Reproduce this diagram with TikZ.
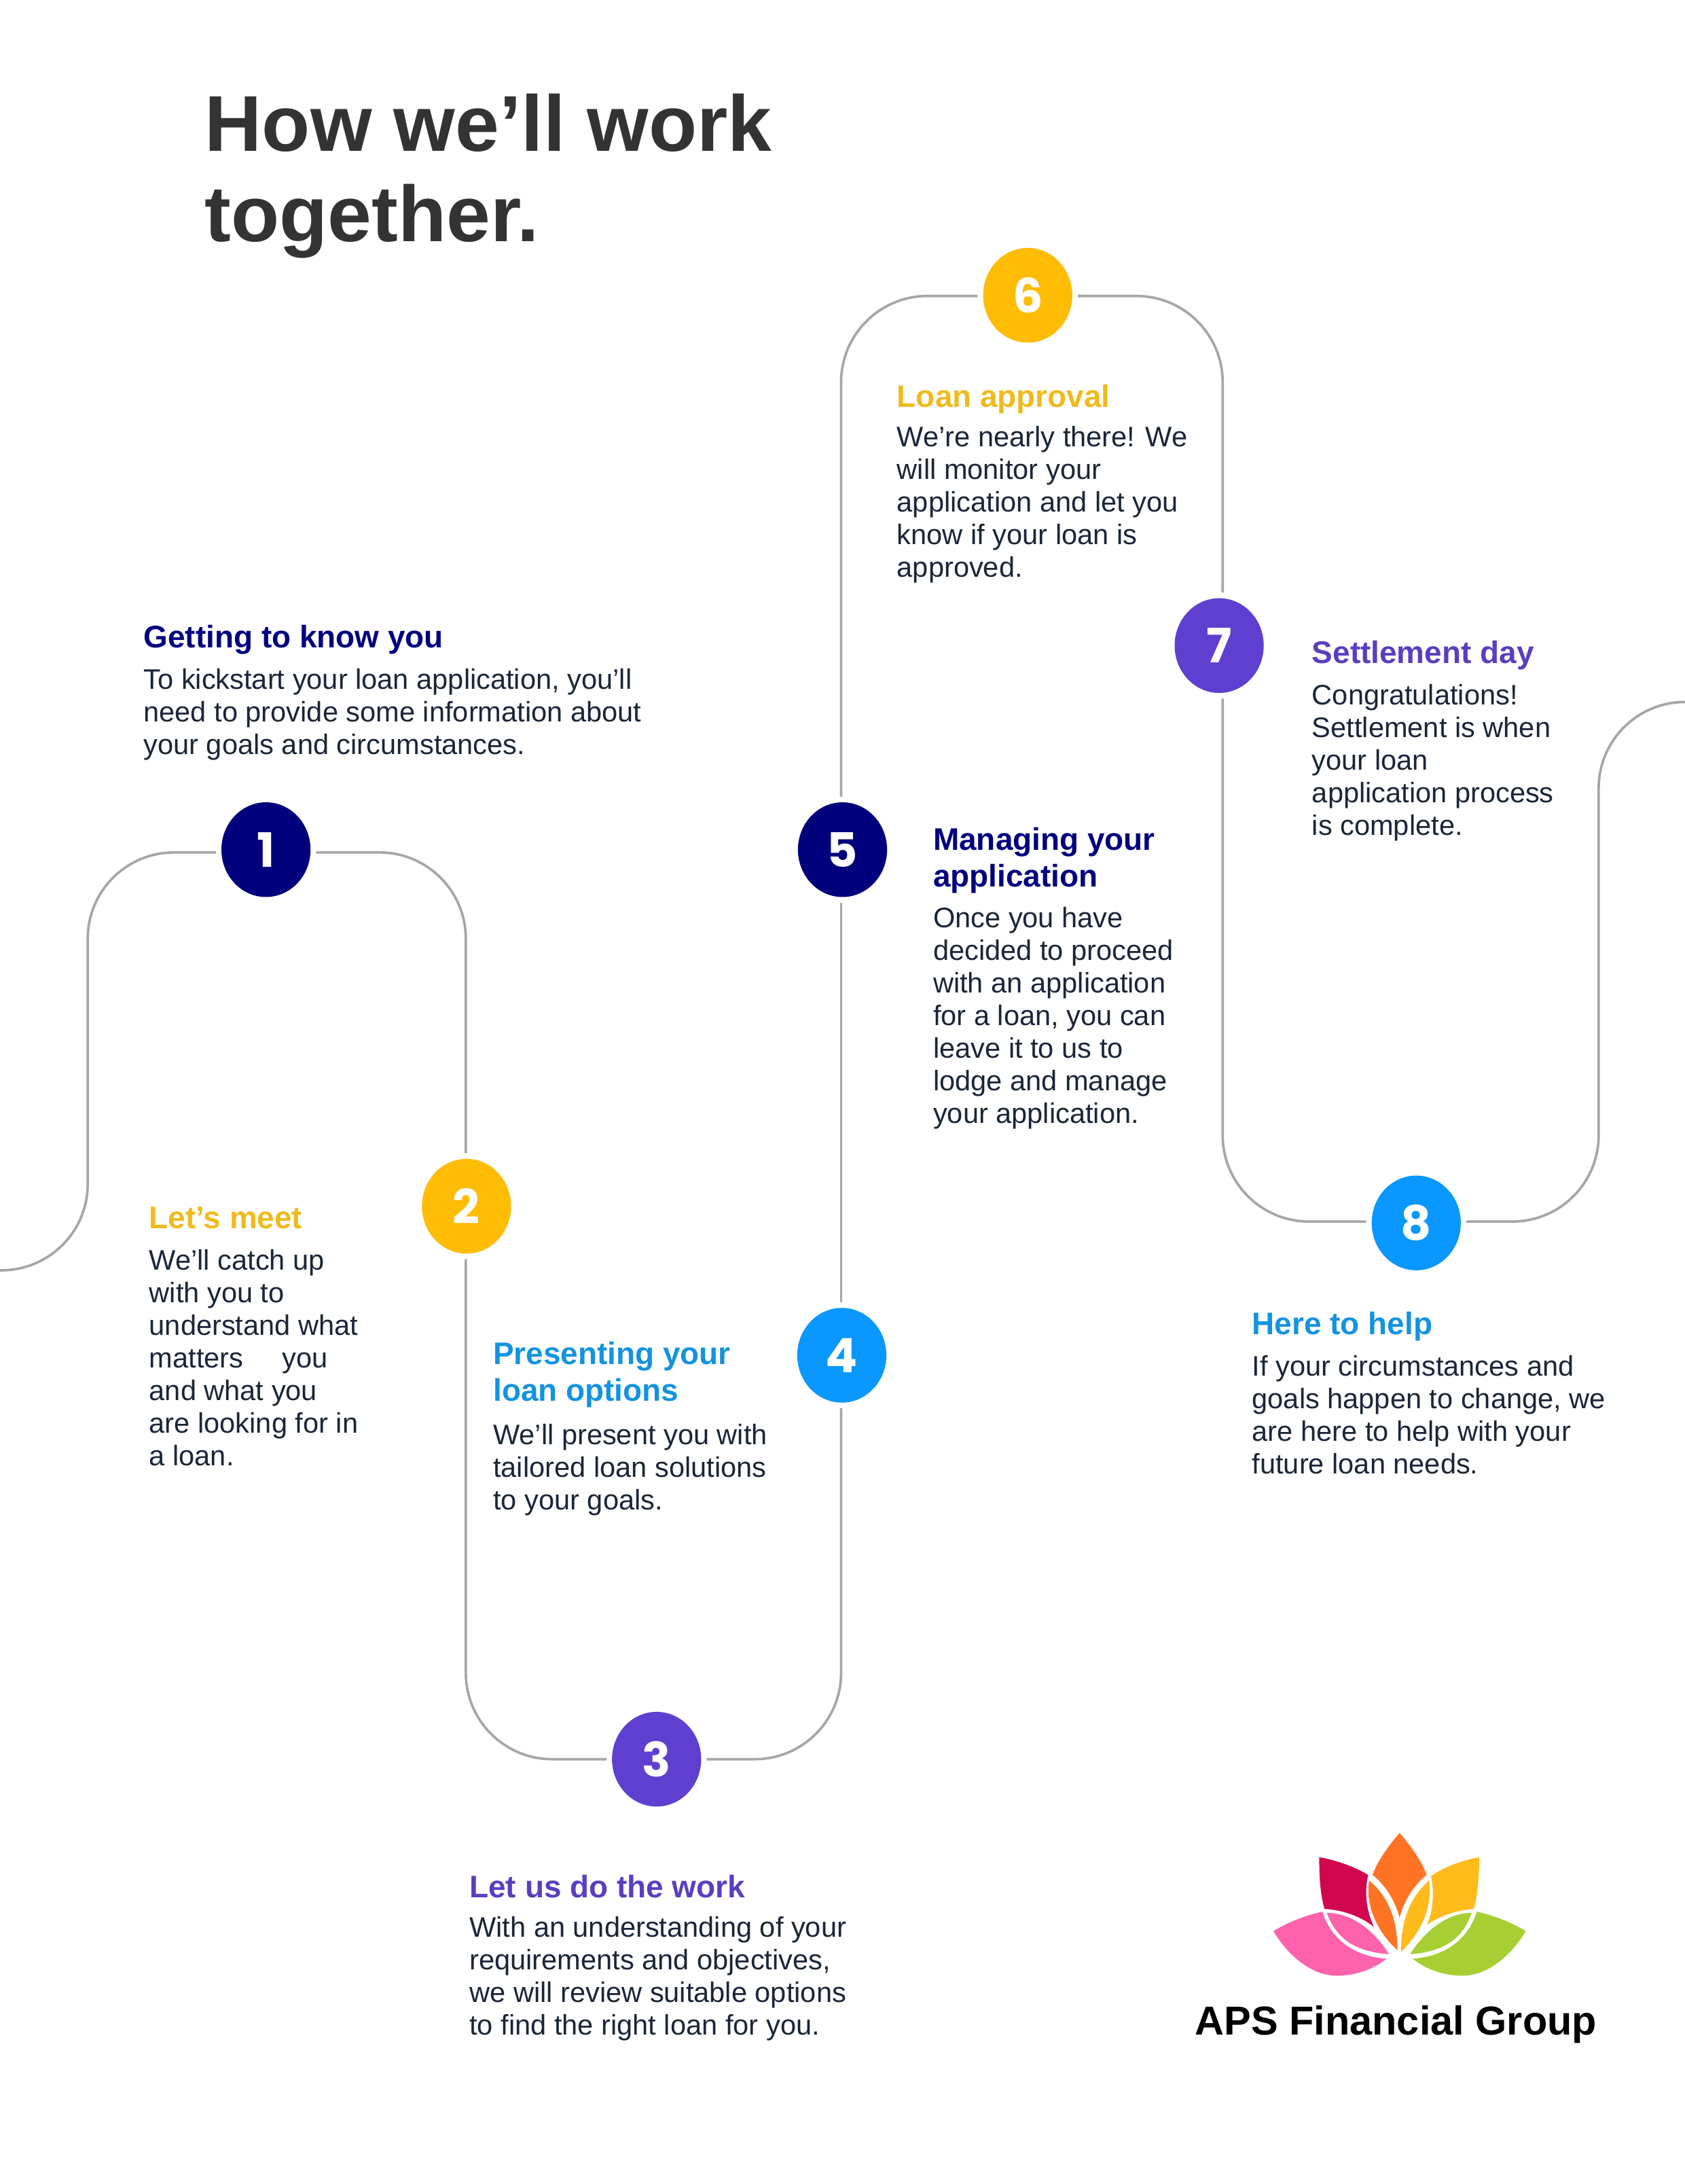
\documentclass[tikz,border=0pt]{standalone}
\usepackage{fontspec}
\setmainfont{Liberation Sans}
\newfontfamily\numfont{Poppins}
\usetikzlibrary{shapes.geometric}
\definecolor{cnavy}{HTML}{00007F}
\definecolor{cgold}{HTML}{F0BA1E}
\definecolor{cblue}{HTML}{1393E0}
\definecolor{cpurple}{HTML}{5A3EC0}
\definecolor{cbody}{HTML}{1B2538}
\definecolor{ctitle}{HTML}{333333}
\definecolor{cline}{HTML}{A6A6A6}
\definecolor{fnavy}{HTML}{00007D}
\definecolor{fgold}{HTML}{FFBC05}
\definecolor{fblue}{HTML}{0A97FF}
\definecolor{fpurple}{HTML}{5E3FD0}
\definecolor{lpink}{HTML}{FF62AC}
\definecolor{lcrim}{HTML}{D0064F}
\definecolor{lorange}{HTML}{FF7424}
\definecolor{lyellow}{HTML}{FFBB1C}
\definecolor{lgreen}{HTML}{A6CF33}
\tikzset{
  stepnode/.style={ellipse,minimum width=64pt,minimum height=68pt,inner sep=0pt,outer sep=4pt,text=white,font=\numfont\bfseries\fontsize{34}{34}\selectfont},
  conn/.style={draw=cline,line width=1.8pt,rounded corners=62pt},
  bodytext/.style={anchor=north west,inner sep=0pt,align=left,text=cbody,font=\fontsize{20.28}{23.4}\selectfont,execute at begin node={\rule{0pt}{16pt}}},
  headtext/.style={anchor=north west,inner sep=0pt,align=left,font=\bfseries\fontsize{22.4}{26.5}\selectfont,execute at begin node={\rule{0pt}{17pt}}}
}
\begin{document}
\begin{tikzpicture}[x=1pt,y=-1pt]
\useasboundingbox (0,0) rectangle (1210,1568);
% title
\node[anchor=north west,inner sep=0pt,align=left,text=ctitle,font=\bfseries\fontsize{56.8}{65}\selectfont,execute at begin node={\rule{0pt}{42pt}}] (title) at (147,67) {How we’ll work\\together.};
% step nodes
\node[stepnode,fill=fnavy] (n1) at (191,610) {1};
\node[stepnode,fill=fgold] (n2) at (335,866) {2};
\node[stepnode,fill=fpurple] (n3) at (471.5,1263) {3};
\node[stepnode,fill=fblue] (n4) at (604.5,973) {4};
\node[stepnode,fill=fnavy] (n5) at (605,610) {5};
\node[stepnode,fill=fgold] (n6) at (738,212) {6};
\node[stepnode,fill=fpurple] (n7) at (875.5,463.5) {7};
\node[stepnode,fill=fblue] (n8) at (1017,878) {8};
% bends
\coordinate (s) at (0,912);
\coordinate (b1) at (63,912);
\coordinate (b2) at (63,612);
\coordinate (b3) at (334.5,612);
\coordinate (b4) at (334.5,1263);
\coordinate (b5) at (604,1263);
\coordinate (b6) at (604,212.5);
\coordinate (b7) at (878,212.5);
\coordinate (b8) at (878,877);
\coordinate (b9) at (1148,877);
\coordinate (b10) at (1148,504);
\coordinate (e) at (1210,504);
% connectors
\draw[conn] (s) -- (b1) -- (b2) -- (n1.west |- b2);
\draw[conn] (n1.east |- b3) -- (b3) -- (n2.north -| b3);
\draw[conn] (n2.south -| b4) -- (b4) -- (n3.west |- b4);
\draw[conn] (n3.east |- b5) -- (b5) -- (n4.south -| b5);
\draw[conn] (n4.north -| b5) -- (n5.south -| b5);
\draw[conn] (n5.north -| b6) -- (b6) -- (n6.west |- b6);
\draw[conn] (n6.east |- b7) -- (b7) -- (n7.north -| b7);
\draw[conn] (n7.south -| b8) -- (b8) -- (n8.west |- b8);
\draw[conn] (n8.east |- b9) -- (b9) -- (b10) -- (e);
% text blocks
\node[headtext,text=cnavy] (h1) at (103,448) {Getting to know you};
\node[bodytext] (t1) at (103,480) {To kickstart your loan application, you’ll\\need to provide some information about\\your goals and circumstances.};
\node[headtext,text=cgold] (h2) at (107,865) {Let’s meet};
\node[bodytext] (t2) at (107,897) {We’ll catch up\\with you to\\understand what\\matters\hspace{28pt}you\\and what you\\are looking for in\\a loan.};
\node[headtext,text=cblue] (h4) at (354,963) {Presenting your\\loan options};
\node[bodytext] (t4) at (354,1022) {We’ll present you with\\tailored loan solutions\\to your goals.};
\node[headtext,text=cpurple] (h3) at (337,1345) {Let us do the work};
\node[bodytext] (t3) at (337,1376) {With an understanding of your\\requirements and objectives,\\we will review suitable options\\to find the right loan for you.};
\node[headtext,text=cnavy] (h5) at (670,594) {Managing your\\application};
\node[bodytext] (t5) at (670,651) {Once you have\\decided to proceed\\with an application\\for a loan, you can\\leave it to us to\\lodge and manage\\your application.};
\node[headtext,text=cgold] (h6) at (644,275) {Loan approval};
\node[bodytext] (t6) at (644,306) {We’re nearly there! We\\will monitor your\\application and let you\\know if your loan is\\approved.};
\node[headtext,text=cpurple] (h7) at (942,459) {Settlement day};
\node[bodytext] (t7) at (942,491) {Congratulations!\\Settlement is when\\your loan\\application process\\is complete.};
\node[headtext,text=cblue] (h8) at (899,941) {Here to help};
\node[bodytext] (t8) at (899,973) {If your circumstances and\\goals happen to change, we\\are here to help with your\\future loan needs.};
% logo
\begin{scope}[x=0.188pt,y=-0.1626pt,shift={(867.8pt,-1297.3pt)}]
\fill[lorange] (730,115) .. controls (775,175) and (815,240) .. (833,300) .. controls (780,350) and (745,420) .. (730,490) .. controls (715,420) and (680,350) .. (627,300) .. controls (645,240) and (685,175) .. (730,115) -- cycle;
\fill[lorange] (614,325) .. controls (665,375) and (722,460) .. (722,632) .. controls (660,570) and (595,450) .. (614,325) -- cycle;
\fill[lyellow] (842,325) .. controls (795,375) and (735,460) .. (735,640) .. controls (800,570) and (860,450) .. (842,325) -- cycle;
\fill[lyellow] (850,305) .. controls (900,265) and (970,235) .. (1034,222) .. controls (1034,300) and (1030,380) .. (1014,450) .. controls (950,455) and (885,480) .. (835,520) .. controls (860,450) and (862,370) .. (850,305) -- cycle;
\fill[lcrim] (423,222) .. controls (490,235) and (560,265) .. (610,300) .. controls (596,370) and (600,450) .. (632,530) .. controls (580,480) and (510,455) .. (443,450) .. controls (426,380) and (423,300) .. (423,222) -- cycle;
\fill[lpink] (248,548) .. controls (310,505) and (370,480) .. (435,462) .. controls (470,590) and (560,660) .. (680,670) .. controls (620,725) and (550,745) .. (490,745) .. controls (390,745) and (300,650) .. (248,548) -- cycle;
\fill[lpink] (452,467) .. controls (560,470) and (640,560) .. (690,650) .. controls (570,640) and (490,590) .. (452,467) -- cycle;
\fill[lgreen] (1212,548) .. controls (1150,505) and (1090,480) .. (1025,462) .. controls (990,590) and (900,660) .. (780,670) .. controls (840,725) and (910,745) .. (970,745) .. controls (1070,745) and (1160,650) .. (1212,548) -- cycle;
\fill[lgreen] (1005,467) .. controls (900,470) and (820,560) .. (770,650) .. controls (890,640) and (970,590) .. (1005,467) -- cycle;
\end{scope}
\node[anchor=base west,inner sep=0pt,text=black,font=\bfseries\fontsize{29}{33}\selectfont] (logo) at (858,1461) {APS Financial Group};
\end{tikzpicture}
\end{document}
